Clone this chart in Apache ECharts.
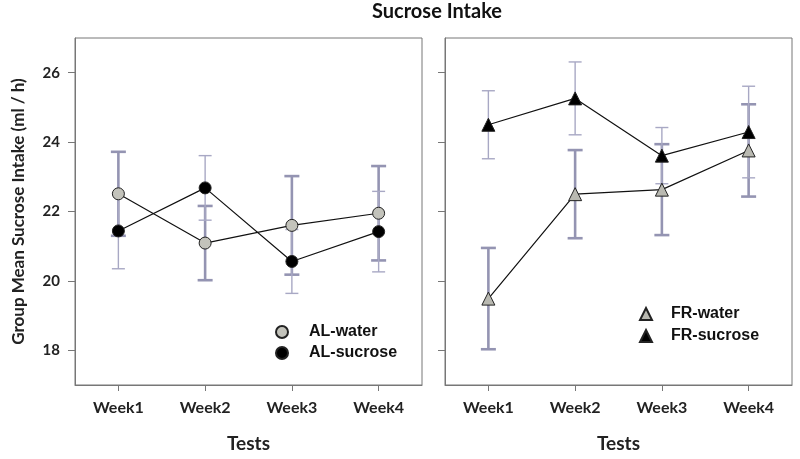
<!DOCTYPE html>
<html>
<head>
<meta charset="utf-8">
<script src="https://cdn.jsdelivr.net/npm/echarts@6/dist/echarts.min.js"></script>
<style>
  html, body { margin: 0; padding: 0; background: #fff; }
  #chart { width: 800px; height: 459px; }
</style>
</head>
<body>
<div id="chart"></div>
<script>
// data
var weeks = ['Week1', 'Week2', 'Week3', 'Week4'];
var yTicks = [18, 20, 22, 24, 26];

var alWater = [22.51, 21.09, 21.60, 21.95];
var alWaterErr = [1.21, 1.07, 1.42, 1.36];
var alSucrose = [21.44, 22.68, 20.56, 21.42];
var alSucroseErr = [1.09, 0.93, 0.92, 1.16];

var frWater = [19.49, 22.50, 22.63, 23.76];
var frWaterErr = [1.46, 1.27, 1.31, 1.33];
var frSucrose = [24.50, 25.26, 23.61, 24.29];
var frSucroseErr = [0.98, 1.05, 0.81, 1.32];

var calibri = 'Lato';
var arial = 'Liberation Sans';
var axisGrey = '#777';

function errRows(means, errs) {
    return means.map(function (m, i) {
        return [weeks[i], m - errs[i], m + errs[i]];
    });
}

function errorBar(capHalf, width, color) {
    return function (params, api) {
        var x = api.value(0);
        var top = api.coord([x, api.value(2)]);
        var bot = api.coord([x, api.value(1)]);
        var style = { stroke: color, lineWidth: width };
        return {
            type: 'group',
            children: [
                { type: 'line', shape: { x1: top[0], y1: top[1], x2: bot[0], y2: bot[1] }, style: style },
                { type: 'line', shape: { x1: top[0] - capHalf, y1: top[1], x2: top[0] + capHalf, y2: top[1] }, style: style },
                { type: 'line', shape: { x1: bot[0] - capHalf, y1: bot[1], x2: bot[0] + capHalf, y2: bot[1] }, style: style }
            ]
        };
    };
}

function xAxis(idx) {
    return {
        type: 'category',
        gridIndex: idx,
        data: weeks,
        boundaryGap: true,
        axisLine: { show: true, lineStyle: { color: axisGrey, width: 1 } },
        axisTick: { show: true, alignWithLabel: true, length: 6, lineStyle: { color: axisGrey } },
        axisLabel: { margin: 15, color: '#222', fontFamily: calibri, fontWeight: 'bold', fontSize: 16 },
        splitLine: { show: false },
        name: 'Tests',
        nameLocation: 'middle',
        nameGap: 49,
        nameTextStyle: { color: '#222', fontFamily: calibri, fontWeight: 'bold', fontSize: 19 }
    };
}

function yAxis(idx, showLabels) {
    var ax = {
        type: 'value',
        gridIndex: idx,
        min: 17,
        max: 27,
        axisLine: { show: true, lineStyle: { color: axisGrey, width: 1 } },
        axisTick: { show: true, length: 7, customValues: yTicks, lineStyle: { color: axisGrey } },
        axisLabel: {
            show: showLabels, customValues: yTicks, margin: 15,
            color: '#222', fontFamily: calibri, fontWeight: 'bold', fontSize: 15
        },
        splitLine: { show: false }
    };
    if (showLabels) {
        ax.name = 'Group Mean Sucrose Intake (ml / h)';
        ax.nameLocation = 'middle';
        ax.nameGap = 48;
        ax.nameTextStyle = { color: '#222', fontFamily: calibri, fontWeight: 'bold', fontSize: 17 };
    }
    return ax;
}

function meanLine(name, data, idx, symbol, size, fill) {
    return {
        name: name,
        type: 'line',
        xAxisIndex: idx,
        yAxisIndex: idx,
        data: data,
        symbol: symbol,
        symbolSize: size,
        showAllSymbol: true,
        z: 3,
        lineStyle: { color: '#111', width: 1.2 },
        itemStyle: { color: fill, borderColor: '#222', borderWidth: 1, opacity: 1 },
        emphasis: { disabled: true }
    };
}

function errSeries(rows, idx, thick) {
    return {
        type: 'custom',
        xAxisIndex: idx,
        yAxisIndex: idx,
        z: 1,
        silent: true,
        data: rows,
        encode: { x: 0, y: [1, 2] },
        renderItem: thick ? errorBar(7.5, 2.6, '#9494b2') : errorBar(6.5, 1.4, '#a8a8c4')
    };
}

var chart = echarts.init(document.getElementById('chart'));
chart.setOption({
    animation: false,
    backgroundColor: '#fff',
    title: {
        text: 'Sucrose Intake',
        left: 437,
        top: 2,
        textAlign: 'center',
        padding: 0,
        textStyle: { color: '#111', fontFamily: calibri, fontWeight: 'bold', fontSize: 20 }
    },
    grid: [
        { left: 75, top: 38, width: 347, height: 347, show: true, borderColor: axisGrey, borderWidth: 1 },
        { left: 445, top: 38, width: 347, height: 347, show: true, borderColor: axisGrey, borderWidth: 1 }
    ],
    legend: [
        {
            data: ['AL-water', 'AL-sucrose'],
            orient: 'vertical',
            left: 275,
            top: 324,
            padding: 0,
            itemWidth: 44,
            itemHeight: 12,
            itemGap: 5,
            icon: 'circle',
            selectedMode: false,
            textStyle: { color: '#111', fontFamily: arial, fontWeight: 'bold', fontSize: 16 }
        },
        {
            // series icon (line + symbol) with the line hidden
            data: ['FR-water', 'FR-sucrose'],
            orient: 'vertical',
            left: 625,
            top: 306,
            padding: 0,
            itemWidth: 40,
            itemHeight: 15,
            itemGap: 6,
            lineStyle: { opacity: 0 },
            selectedMode: false,
            textStyle: { color: '#111', fontFamily: arial, fontWeight: 'bold', fontSize: 16 }
        }
    ],
    xAxis: [xAxis(0), xAxis(1)],
    yAxis: [yAxis(0, true), yAxis(1, false)],
    series: [
        errSeries(errRows(alWater, alWaterErr), 0, true),
        errSeries(errRows(alSucrose, alSucroseErr), 0, false),
        errSeries(errRows(frWater, frWaterErr), 1, true),
        errSeries(errRows(frSucrose, frSucroseErr), 1, false),
        meanLine('AL-water', alWater, 0, 'circle', 12, '#c3c3bb'),
        meanLine('AL-sucrose', alSucrose, 0, 'circle', 12, '#000'),
        meanLine('FR-water', frWater, 1, 'triangle', 13, '#b9b9b1'),
        meanLine('FR-sucrose', frSucrose, 1, 'triangle', 13, '#000')
    ]
});

window.addEventListener('resize', function () {
    chart.resize();
});
</script>
</body>
</html>
